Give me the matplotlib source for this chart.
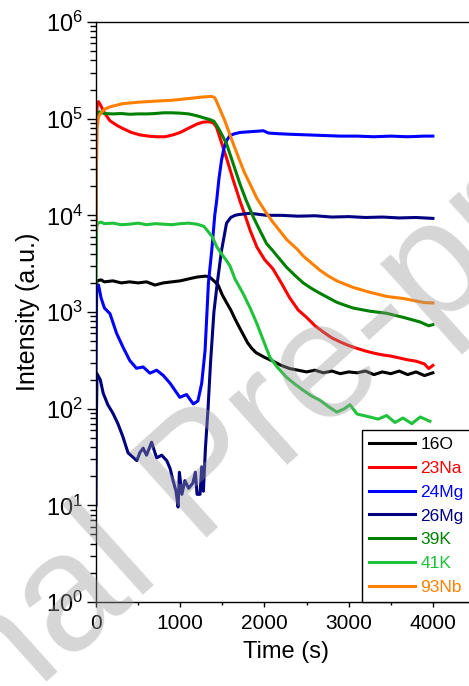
import matplotlib
matplotlib.use("Agg")
import matplotlib.pyplot as plt
from matplotlib.ticker import MultipleLocator, LogLocator, NullFormatter

plt.rcParams['font.family'] = ['Liberation Sans', 'DejaVu Sans']
plt.rcParams['mathtext.fontset'] = 'custom'
plt.rcParams['mathtext.rm'] = 'Liberation Sans'
plt.rcParams['mathtext.it'] = 'Liberation Sans:italic'
plt.rcParams['mathtext.default'] = 'regular'

# ---- data ----
labels = ['16O', '23Na', '24Mg', '26Mg', '39K', '41K', '93Nb']
colors = ['#000000', '#ff0000', '#0000ff', '#000080', '#008000', '#1fc23a', '#ff8000']

t_O16 = [0, 10, 60, 100, 200, 300, 400, 500, 600, 700, 800, 900, 1000, 1100, 1200, 1300, 1350,
         1400, 1450, 1500, 1550, 1600, 1650, 1700, 1750, 1800, 1850, 1900, 2000, 2100, 2200,
         2300, 2400, 2500, 2600, 2700, 2800, 2900, 3000, 3100, 3200, 3300, 3400, 3500, 3600,
         3700, 3800, 3900, 4000]
v_O16 = [1500, 2100, 2150, 2050, 2100, 2000, 2050, 2000, 2050, 1900, 2000, 2050, 2100, 2200,
         2300, 2350, 2300, 2100, 1900, 1500, 1250, 1050, 850, 700, 580, 480, 420, 380, 340,
         310, 280, 260, 250, 240, 250, 235, 245, 230, 240, 235, 245, 225, 240, 230, 245, 225,
         240, 220, 235]

t_Na23 = [0, 15, 30, 60, 100, 166, 250, 320, 420, 520, 620, 720, 820, 915, 1000, 1115, 1200,
          1270, 1330, 1390, 1430, 1470, 1510, 1550, 1590, 1630, 1670, 1710, 1770, 1830, 1910,
          2000, 2100, 2200, 2300, 2400, 2500, 2600, 2700, 2800, 2900, 3000, 3100, 3200, 3300,
          3400, 3500, 3600, 3700, 3800, 3900, 3950, 4000]
v_Na23 = [9e4, 1.4e5, 1.5e5, 1.35e5, 1.15e5, 9.5e4, 8.5e4, 7.9e4, 7.2e4, 6.8e4, 6.6e4, 6.5e4,
          6.5e4, 6.8e4, 7.2e4, 8.1e4, 8.8e4, 9.2e4, 9.3e4, 9.1e4, 8.2e4, 6.4e4, 5e4, 3.9e4,
          3e4, 2.3e4, 1.8e4, 1.4e4, 1e4, 7e3, 4.7e3, 3.5e3, 2.8e3, 2e3, 1.4e3, 1.05e3, 880,
          720, 620, 540, 490, 450, 420, 395, 375, 360, 350, 335, 320, 310, 290, 260, 280]

t_Mg24 = [0, 8, 30, 60, 100, 166, 245, 320, 400, 480, 560, 640, 720, 800, 880, 995, 1075,
          1155, 1210, 1255, 1295, 1335, 1375, 1410, 1432, 1460, 1490, 1520, 1550, 1590, 1650,
          1710, 1800, 1900, 1985, 2050, 2150, 2300, 2500, 2700, 2900, 3100, 3300, 3500, 3700,
          3900, 4000]
v_Mg24 = [200, 1800, 1900, 1400, 1100, 960, 600, 434, 316, 262, 270, 233, 250, 220, 183, 131,
          140, 112, 120, 183, 400, 2000, 4400, 1e4, 1.4e4, 2.4e4, 3.7e4, 5e4, 5.9e4, 6.7e4,
          7e4, 7.2e4, 7.3e4, 7.4e4, 7.5e4, 7.1e4, 7e4, 6.9e4, 6.8e4, 6.7e4, 6.6e4, 6.6e4,
          6.5e4, 6.6e4, 6.5e4, 6.6e4, 6.6e4]

t_Mg26 = [0, 5, 12, 50, 85, 140, 200, 260, 320, 380, 430, 485, 520, 560, 600, 660, 700, 720,
          780, 840, 880, 915, 950, 975, 990, 1020, 1055, 1100, 1150, 1180, 1200, 1235, 1255,
          1275, 1300, 1330, 1360, 1400, 1440, 1490, 1550, 1600, 1650, 1700, 1830, 2025, 2200,
          2400, 2600, 2800, 3000, 3200, 3400, 3600, 3800, 4000]
v_Mg26 = [10, 80, 230, 200, 145, 110, 90, 70, 51, 35, 32, 29, 35, 39, 33, 45, 35, 31, 33, 29,
          24, 18, 14, 9.6, 22, 13, 18, 15, 17, 22, 13, 13, 25, 14, 40, 100, 300, 1000, 2000,
          4300, 8300, 9500, 1e4, 1.02e4, 1.05e4, 1e4, 1e4, 9.8e3, 9.9e3, 9.6e3, 9.7e3, 9.5e3,
          9.6e3, 9.4e3, 9.5e3, 9.3e3]

t_K39 = [0, 8, 20, 40, 60, 100, 200, 300, 400, 500, 600, 700, 800, 900, 1000, 1100, 1200,
         1280, 1350, 1400, 1430, 1470, 1550, 1630, 1710, 1780, 1830, 1870, 1945, 2025, 2100,
         2150, 2263, 2360, 2460, 2560, 2660, 2760, 2860, 2950, 3050, 3250, 3450, 3650, 3845,
         3950, 4000]
v_K39 = [3700, 9e4, 1.1e5, 1.18e5, 1.16e5, 1.13e5, 1.12e5, 1.13e5, 1.11e5, 1.12e5, 1.12e5,
         1.13e5, 1.15e5, 1.15e5, 1.14e5, 1.12e5, 1.07e5, 1.02e5, 9.8e4, 9.4e4, 8.6e4, 7.5e4,
         5.5e4, 3.4e4, 2.1e4, 1.45e4, 1.15e4, 9.5e3, 7e3, 5.1e3, 4.3e3, 3.8e3, 2.9e3, 2.4e3,
         2e3, 1.75e3, 1.56e3, 1.4e3, 1.26e3, 1.18e3, 1.1e3, 1.02e3, 970, 880, 790, 720, 740]

t_K41 = [0, 8, 20, 60, 100, 200, 300, 400, 500, 600, 700, 800, 900, 1000, 1100, 1200, 1280,
         1320, 1380, 1435, 1490, 1550, 1590, 1650, 1745, 1830, 1910, 1990, 2065, 2150, 2265,
         2360, 2460, 2560, 2660, 2760, 2860, 2950, 3015, 3100, 3250, 3350, 3450, 3550, 3645,
         3750, 3850, 3965]
v_K41 = [2000, 7500, 8300, 8500, 8200, 8300, 8000, 8100, 8300, 8000, 8200, 8100, 8000, 8200,
         8300, 8100, 7700, 7000, 6000, 4700, 4000, 3400, 3000, 2200, 1560, 1100, 760, 500, 340,
         270, 210, 180, 155, 135, 122, 105, 92, 100, 110, 88, 82, 78, 85, 72, 80, 70, 82, 74]

t_Nb93 = [0, 5, 12, 30, 60, 100, 170, 320, 500, 720, 900, 1115, 1250, 1370, 1410, 1440, 1480,
          1530, 1580, 1630, 1700, 1760, 1830, 1910, 2025, 2100, 2265, 2385, 2460, 2560, 2660,
          2760, 2860, 2950, 3050, 3250, 3450, 3645, 3800, 3900, 4000]
v_Nb93 = [7000, 3e4, 8e4, 1.05e5, 1.15e5, 1.25e5, 1.33e5, 1.43e5, 1.48e5, 1.52e5, 1.55e5,
          1.62e5, 1.67e5, 1.7e5, 1.65e5, 1.45e5, 1.2e5, 9.5e4, 7.2e4, 5.5e4, 3.8e4, 2.8e4,
          2.1e4, 1.5e4, 1.05e4, 8.5e3, 5.6e3, 4.5e3, 3.8e3, 3.2e3, 2.7e3, 2.35e3, 2.1e3,
          1.95e3, 1.8e3, 1.6e3, 1.45e3, 1.38e3, 1.3e3, 1.25e3, 1.24e3]

series = [(t_O16, v_O16), (t_Na23, v_Na23), (t_Mg24, v_Mg24), (t_Mg26, v_Mg26),
          (t_K39, v_K39), (t_K41, v_K41), (t_Nb93, v_Nb93)]

# ---- figure ----
fig = plt.figure(figsize=(4.69, 6.86), dpi=100)
ax = fig.add_axes([96/469, 84/686, 379/469, 580/686])

for (t, v), lab, c in zip(series, labels, colors):
    ax.plot(t, v, color=c, lw=2.2, label=lab)

ax.set_yscale('log')
ax.set_xlim(0, 4500)
ax.set_ylim(1, 1e6)
ax.set_xticks([0, 1000, 2000, 3000, 4000])
ax.xaxis.set_minor_locator(MultipleLocator(500))
ax.yaxis.set_major_locator(LogLocator(base=10, numticks=10))
ax.yaxis.set_minor_locator(LogLocator(base=10, subs=range(2, 10), numticks=20))
ax.yaxis.set_minor_formatter(NullFormatter())

ax.tick_params(axis='x', which='major', direction='out', length=3.5, width=1, labelsize=15, pad=5)
ax.tick_params(axis='x', which='minor', direction='out', length=2.5, width=1)
ax.tick_params(axis='y', which='major', direction='out', length=6.5, width=1, labelsize=17, pad=3)
ax.tick_params(axis='y', which='minor', direction='out', length=4, width=1)
for s in ax.spines.values():
    s.set_linewidth(1.0)

ax.set_xlabel('Time (s)', fontsize=17, labelpad=6)
ax.set_ylabel('Intensity (a.u.)', fontsize=18, labelpad=4)

leg = ax.legend(loc='lower left', bbox_to_anchor=(0.702, 0.0), borderaxespad=0,
                fancybox=False, edgecolor='black', framealpha=1, fontsize=12.5,
                handlelength=2.65, handletextpad=0.3, labelspacing=0.5, borderpad=0.4,
                labelcolor='linecolor')
leg.get_frame().set_linewidth(1.0)

# watermark
fig.text(0.44, 0.30, 'Journal Pre-proof', rotation=42, fontsize=120, color='#999999',
         alpha=0.4, ha='center', va='center', zorder=10)

fig.savefig('out.png', dpi=100)
